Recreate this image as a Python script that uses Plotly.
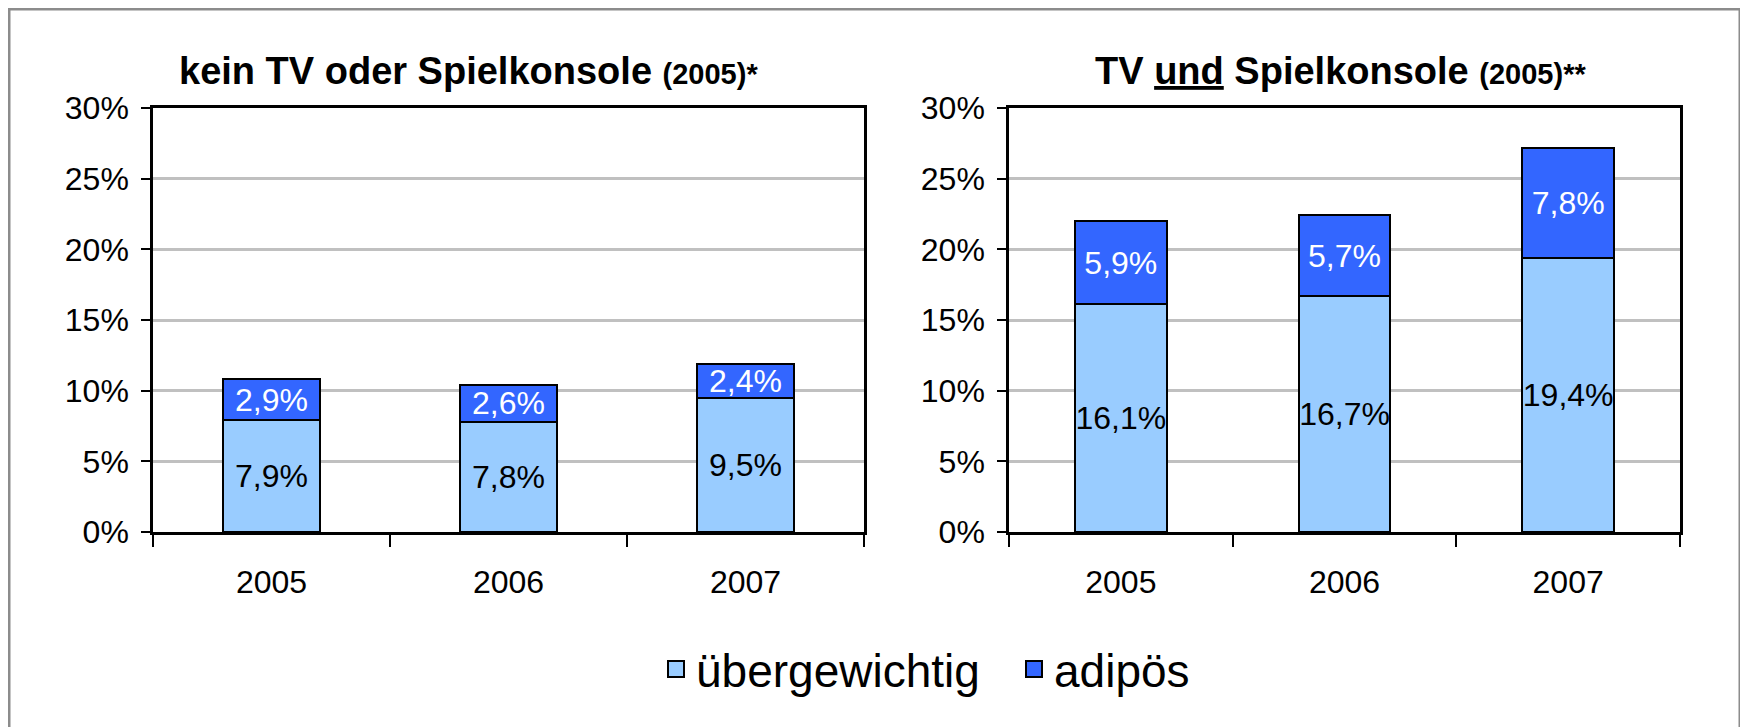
import plotly.graph_objects as go

years = ["2005", "2006", "2007"]
left_ueber = [7.9, 7.8, 9.5]
left_adip = [2.9, 2.6, 2.4]
right_ueber = [16.1, 16.7, 19.4]
right_adip = [5.9, 5.7, 7.8]
y_ticks = [0, 5, 10, 15, 20, 25, 30]
y_tick_labels = ["0%", "5%", "10%", "15%", "20%", "25%", "30%"]
series_names = ["übergewichtig", "adipös"]
colors = ["#99CCFF", "#3366FF"]

W, H = 1748, 727
OFF = 8  # page body offset
FONT = "Liberation Sans, Arial, sans-serif"

def px(v):
    return (v - OFF) / W

def py(v):
    return 1 - (v - OFF) / H

def lab(vals):
    return [f"{v:.1f}".replace(".", ",") + "%" for v in vals]

fig = go.Figure()

for xa, ya, ue, ad in [("x", "y", left_ueber, left_adip), ("x2", "y2", right_ueber, right_adip)]:
    fig.add_trace(go.Bar(x=years, y=ue, xaxis=xa, yaxis=ya, name=series_names[0],
                         marker=dict(color=colors[0], line=dict(color="black", width=2)),
                         text=lab(ue), textposition="inside", insidetextanchor="middle",
                         constraintext="none", textangle=0,
                         textfont=dict(color="black", size=32, family=FONT),
                         showlegend=False, hoverinfo="skip"))
    fig.add_trace(go.Bar(x=years, y=ad, xaxis=xa, yaxis=ya, name=series_names[1],
                         marker=dict(color=colors[1], line=dict(color="black", width=2)),
                         text=lab(ad), textposition="inside", insidetextanchor="middle",
                         constraintext="none", textangle=0,
                         textfont=dict(color="white", size=32, family=FONT),
                         showlegend=False, hoverinfo="skip"))

# legend entries
for n, c in zip(series_names, colors):
    fig.add_trace(go.Scatter(x=[None], y=[None], mode="markers", name=n,
                             marker=dict(symbol="square", size=16, color=c,
                                         line=dict(color="black", width=2)),
                             xaxis="x", yaxis="y", showlegend=True))

ydom = [py(532), py(108)]
axis_common = dict(showline=True, linecolor="black", linewidth=2.5, mirror=True, automargin=False)
xcommon = dict(type="category", ticks="outside", tickson="boundaries", ticklen=12,
               tickwidth=2, tickcolor="black", ticklabelstandoff=20,
               tickfont=dict(size=32, family=FONT, color="black"), showgrid=False,
               **axis_common)
ycommon = dict(range=[0, 30], tickmode="array", tickvals=y_ticks, ticktext=y_tick_labels,
               ticks="outside", ticklen=9,
               tickwidth=2, tickcolor="black", ticklabelstandoff=6,
               tickfont=dict(size=32, family=FONT, color="black"),
               showgrid=True, gridcolor="#C0C0C0", gridwidth=2.5, zeroline=False,
               **axis_common)

fig.update_layout(
    width=W, height=H, autosize=False,
    margin=dict(l=0, r=0, t=0, b=0, autoexpand=False),
    paper_bgcolor="white", plot_bgcolor="white",
    barmode="stack", bargap=0.59,
    font=dict(family=FONT, color="black"),
    xaxis=dict(domain=[px(153), px(864)], anchor="y", **xcommon),
    yaxis=dict(domain=ydom, anchor="x", **ycommon),
    xaxis2=dict(domain=[px(1009), px(1680)], anchor="y2", **xcommon),
    yaxis2=dict(domain=ydom, anchor="x2", **ycommon),
    legend=dict(orientation="h", x=px(656), xanchor="left", y=py(669), yanchor="middle",
                font=dict(size=46, family=FONT, color="black"), itemwidth=30,
                entrywidth=313, entrywidthmode="pixels",
                traceorder="normal", bgcolor="rgba(0,0,0,0)"),
    showlegend=True,
)

fig.add_annotation(xref="paper", yref="paper", x=px(468), y=py(71), showarrow=False,
                   xanchor="center", yanchor="middle",
                   text="<b>kein TV oder Spielkonsole <span style='font-size:29px'>(2005)*</span></b>",
                   font=dict(size=38, family=FONT, color="black"))
fig.add_annotation(xref="paper", yref="paper", x=px(1340), y=py(71), showarrow=False,
                   xanchor="center", yanchor="middle",
                   text="<b>TV <span style='text-decoration:underline'>und</span> Spielkonsole <span style='font-size:29px'>(2005)**</span></b>",
                   font=dict(size=38, family=FONT, color="black"))

fig.add_shape(type="rect", xref="paper", yref="paper", x0=px(9), x1=px(1740),
              y0=-0.05, y1=py(9), line=dict(color="#8C8C8C", width=3),
              fillcolor="rgba(0,0,0,0)", layer="below")

fig.write_html("out.html")
